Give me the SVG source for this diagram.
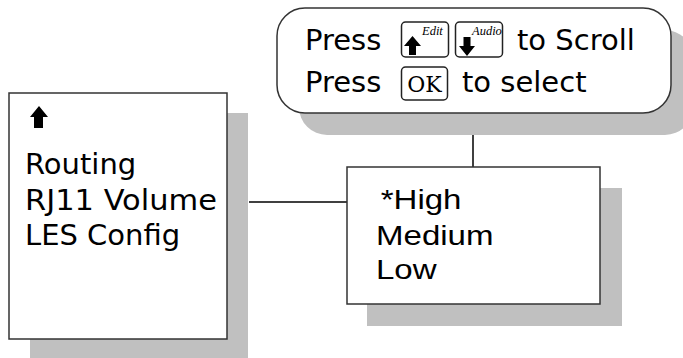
<svg xmlns="http://www.w3.org/2000/svg" width="683" height="358" viewBox="0 0 683 358">
<style>
.shadow{fill:#c0c0c0;stroke:none}
.box{fill:#fff;stroke:#333;stroke-width:1.5}
.key{fill:#fff;stroke:#222;stroke-width:1.5}
.conn{stroke:#000;stroke-width:1.5;fill:none}
.v{font-family:"DejaVu Sans",Verdana,sans-serif;font-size:29px;fill:#000}
.a{font-family:"Liberation Sans",Arial,sans-serif;font-size:28px;fill:#000}
.ki{font-family:"Liberation Serif","Times New Roman",serif;font-style:italic;font-size:12.5px;fill:#000}
.mono{font-family:"DejaVu Serif","Liberation Serif",serif;font-size:22px;fill:#000}
.ico{fill:#000}
</style>
<rect width="683" height="358" fill="#fff"/>
<g id="connectors">
<line class="conn" x1="249" y1="202" x2="347" y2="202"/>
<line class="conn" x1="473" y1="113" x2="473" y2="167"/>
</g>
<g id="menu">
<rect class="shadow" x="30" y="113" width="218" height="245"/>
<rect class="box" x="9" y="93" width="218" height="246"/>
<polygon class="ico" points="30,117 39,106 48,117 43,117 43,128 34,128 34,117"/>
<text class="v" x="25" y="174">Routing</text>
<text class="v" x="25" y="210" textLength="192" lengthAdjust="spacingAndGlyphs">RJ11 Volume</text>
<text class="v" x="25" y="245">LES Config</text>
</g>
<g id="options">
<rect class="shadow" x="367" y="188" width="255" height="138"/>
<rect class="box" x="347" y="167" width="253" height="137"/>
<g transform="translate(376,0) scale(1.18,1)">
<text class="a" x="4" y="209">*High</text>
<text class="a" x="0" y="245">Medium</text>
<text class="a" x="0" y="279">Low</text>
</g>
</g>
<g id="callout">
<rect class="shadow" x="299" y="30" width="394" height="105" rx="28"/>
<rect class="box" x="277" y="8" width="394" height="105" rx="28"/>
<text class="v" x="305" y="50">Press</text>
<rect class="key" x="401.5" y="22" width="47" height="35" rx="4"/>
<polygon class="ico" points="404,46 412.5,36 421,46 416,46 416,55 409,55 409,46"/>
<text class="ki" x="422" y="35">Edit</text>
<rect class="key" x="455.5" y="22" width="47" height="35" rx="4"/>
<polygon class="ico" points="463.5,37 470.5,37 470.5,46 475,46 467,56 459,46 463.5,46"/>
<text class="ki" x="472" y="35">Audio</text>
<text class="v" x="517" y="50">to Scroll</text>
<text class="v" x="305" y="92">Press</text>
<rect class="key" x="401.5" y="67" width="46" height="33" rx="4"/>
<text class="mono" x="424.5" y="92" text-anchor="middle">OK</text>
<text class="v" x="462" y="92">to select</text>
</g>
</svg>
